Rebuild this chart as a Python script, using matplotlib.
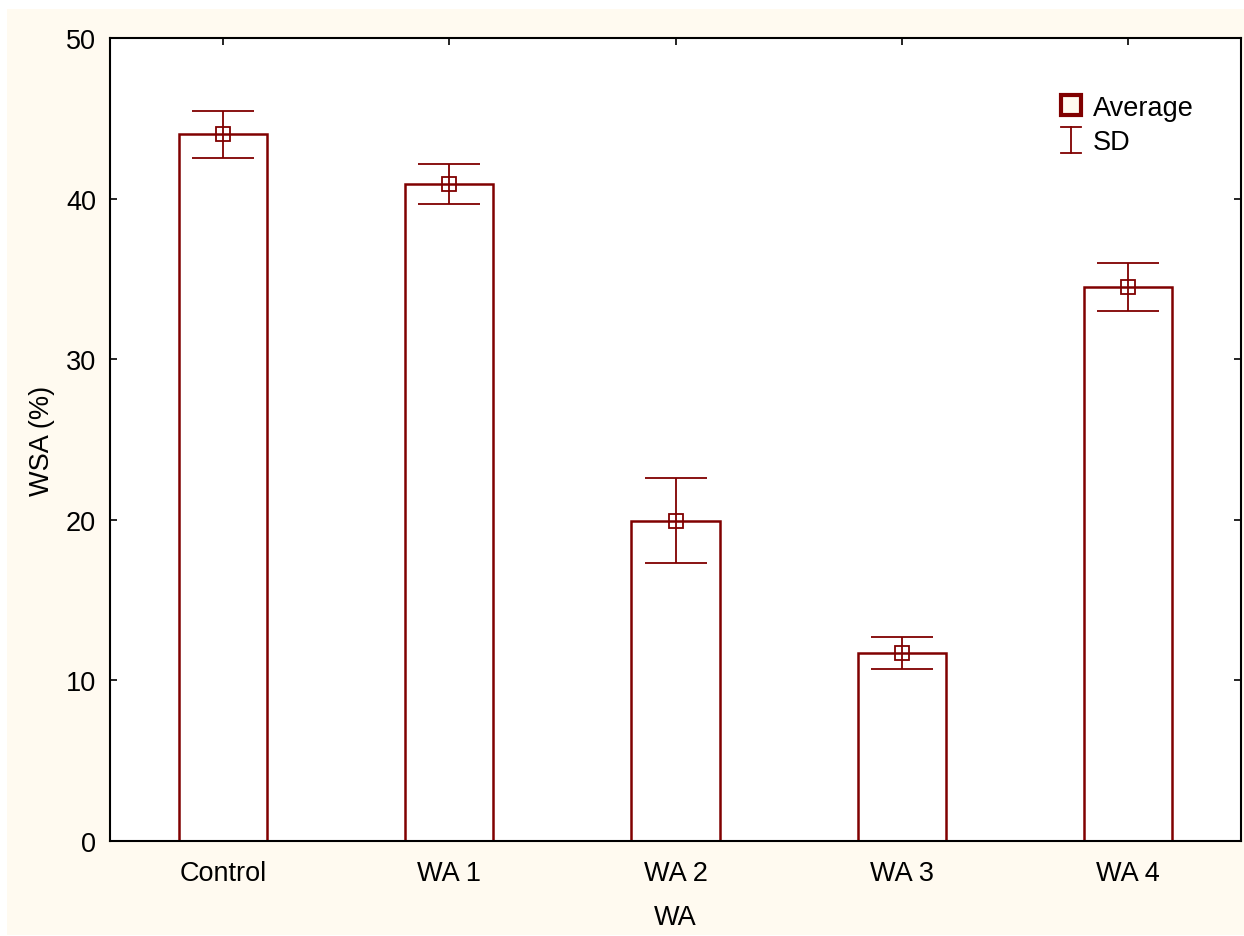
"""WSA by WA treatment - bar chart with SD whiskers"""

import matplotlib.pyplot as plt
from matplotlib.patches import Rectangle
from matplotlib.lines import Line2D
from matplotlib.legend_handler import HandlerBase

plt.rcParams['font.family'] = ['Liberation Sans', 'DejaVu Sans']

categories = ['Control', 'WA 1', 'WA 2', 'WA 3', 'WA 4']
averages = [44.0, 40.9, 19.95, 11.7, 34.5]
sd = [1.45, 1.25, 2.65, 1.0, 1.5]

red = '#800000'
cream = '#fffaf0'
fs = 19.5


class SDHandler(HandlerBase):
    """Draw the SD legend entry as a small whisker"""

    def create_artists(self, legend, orig_handle, xdescent, ydescent,
                       width, height, fontsize, trans):
        cx = width / 2 - xdescent
        y0 = -ydescent - height * 0.2
        y1 = -ydescent + height * 1.15
        cw = 7
        return [
            Line2D([cx, cx], [y0, y1], color=red, lw=1.3, transform=trans),
            Line2D([cx - cw, cx + cw], [y0, y0], color=red, lw=1.3, transform=trans),
            Line2D([cx - cw, cx + cw], [y1, y1], color=red, lw=1.3, transform=trans),
        ]


fig = plt.figure(figsize=(12.44, 9.37), dpi=100, facecolor='white')
# cream panel behind everything
fig.patches.append(Rectangle((7 / 1244, 1 - 936 / 937), 1, (936 - 10) / 937,
                             transform=fig.transFigure, facecolor=cream,
                             edgecolor='none', zorder=-10))
ax = fig.add_axes([110 / 1244, 1 - 842 / 937, (1241 - 110) / 1244, (842 - 39) / 937])
ax.set_facecolor('white')

x = list(range(len(categories)))
ax.bar(x, averages, width=0.39, facecolor='white', edgecolor=red, linewidth=1.8, zorder=2)
ax.errorbar(x, averages, yerr=sd, fmt='none', ecolor=red, elinewidth=1.3,
            capsize=22, capthick=1.3, zorder=3)
ax.plot(x, averages, linestyle='none', marker='s', markersize=10,
        markerfacecolor='none', markeredgecolor=red, markeredgewidth=1.3, zorder=4)

ax.set_xlim(-0.5, 4.5)
ax.set_ylim(0, 50)
ax.set_yticks([0, 10, 20, 30, 40, 50])
ax.set_xticks(x)
ax.set_xticklabels(categories)
ax.tick_params(direction='in', top=True, right=True, length=5, width=1.2,
               labelsize=fs)
ax.tick_params(axis='x', pad=14)
ax.tick_params(axis='y', pad=10)
for s in ax.spines.values():
    s.set_linewidth(1.5)
    s.set_color('black')

ax.set_xlabel('WA', fontsize=fs, labelpad=13)
ax.set_ylabel('WSA (%)', fontsize=fs, labelpad=8)

avg_handle = Line2D([], [], linestyle='none', marker='s', markersize=15,
                    markerfacecolor=cream, markeredgecolor=red, markeredgewidth=3)
sd_handle = Line2D([], [])
ax.legend([avg_handle, sd_handle], ['Average', 'SD'], loc='upper left',
          bbox_to_anchor=(1044 / 1244, 1 - 82 / 937),
          bbox_transform=fig.transFigure, frameon=False, fontsize=fs,
          handlelength=1.0, handletextpad=0.3, labelspacing=0.32, borderpad=0,
          handler_map={sd_handle: SDHandler()})

plt.savefig('out.png', dpi=100, facecolor='white')
